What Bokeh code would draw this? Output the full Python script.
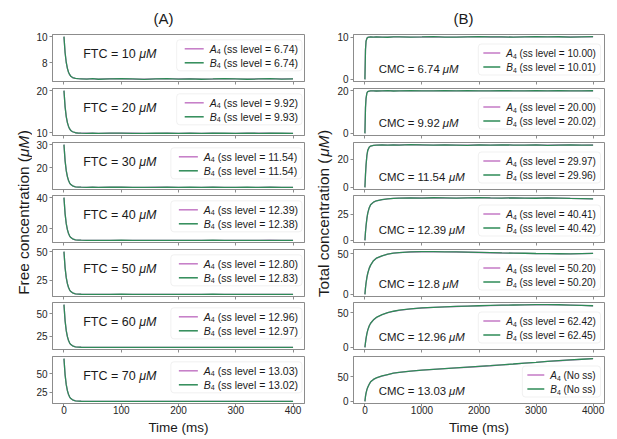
import math
from bokeh.plotting import figure
from bokeh.models import Range1d, FixedTicker, Label, BoxAnnotation
from bokeh.layouts import row, column
from bokeh.embed import file_html
from bokeh.resources import INLINE

# ------------------------------------------------------------------ data
t_free = [0, 2, 4, 6, 8, 10, 12, 15, 20, 25, 30, 40, 50, 60, 80, 100, 120, 140, 160,
          180, 200, 220, 240, 260, 280, 300, 320, 340, 360, 380, 400]
t_total = [0, 10, 20, 35, 50, 75, 100, 150, 200, 300, 400, 500, 600, 800, 1000, 1200,
           1400, 1600, 1800, 2000, 2200, 2400, 2600, 2800, 3000, 3200, 3400, 3600, 3800, 4000]

ftc_values = ["10", "20", "30", "40", "50", "60", "70"]
free_A4_ss = ["6.74", "9.92", "11.54", "12.39", "12.80", "12.96", "13.03"]
free_B4_ss = ["6.74", "9.93", "11.54", "12.38", "12.83", "12.97", "13.02"]
cmc_values = ["6.74", "9.92", "11.54", "12.39", "12.8", "12.96", "13.03"]
total_A4_ss = ["10.00", "20.00", "29.97", "40.41", "50.20", "62.42", None]
total_B4_ss = ["10.01", "20.02", "29.96", "40.42", "50.20", "62.45", None]

free_ticks = [[8, 10], [10, 20], [20, 30], [20, 40], [25, 50], [25, 50], [25, 50]]
total_ticks = [[0, 10], [0, 20], [0, 20], [0, 25], [0, 50], [0, 50], [0, 50]]
free_xticks = [0, 100, 200, 300, 400]
total_xticks = [0, 1000, 2000, 3000, 4000]

free_B4_10 = [10.00, 8.76, 8.01, 7.56, 7.26, 7.07, 6.95, 6.85, 6.78, 6.76, 6.75, 6.73, 6.76, 6.72, 6.75, 6.77,
              6.74, 6.71, 6.74, 6.76, 6.73, 6.75, 6.72, 6.74, 6.77, 6.75, 6.72, 6.74, 6.76, 6.73, 6.75]
free_A4_10 = [10.00, 8.76, 8.01, 7.56, 7.26, 7.07, 6.95, 6.85, 6.78, 6.76, 6.75, 6.74, 6.75, 6.73, 6.76, 6.75,
              6.73, 6.72, 6.75, 6.75, 6.74, 6.76, 6.73, 6.73, 6.76, 6.74, 6.73, 6.75, 6.75, 6.74, 6.74]
free_B4_20 = [20.00, 16.17, 13.86, 12.45, 11.54, 10.94, 10.58, 10.28, 10.05, 9.98, 9.95, 9.92, 9.95, 9.91, 9.94, 9.96,
              9.92, 9.90, 9.93, 9.95, 9.91, 9.94, 9.92, 9.96, 9.93, 9.90, 9.94, 9.92, 9.95, 9.93, 9.91]
free_A4_20 = [20.00, 16.17, 13.86, 12.45, 11.54, 10.94, 10.58, 10.28, 10.05, 9.98, 9.95, 9.93, 9.94, 9.90, 9.93, 9.95,
              9.93, 9.91, 9.92, 9.94, 9.92, 9.93, 9.91, 9.95, 9.92, 9.91, 9.93, 9.93, 9.94, 9.92, 9.92]
free_B4_30 = [30.00, 22.99, 18.74, 16.16, 14.49, 13.39, 12.74, 12.19, 11.76, 11.63, 11.58, 11.53, 11.56, 11.52, 11.55, 11.57,
              11.53, 11.51, 11.54, 11.56, 11.52, 11.55, 11.53, 11.57, 11.54, 11.51, 11.55, 11.53, 11.56, 11.54, 11.52]
free_A4_30 = [30.00, 22.99, 18.74, 16.16, 14.49, 13.39, 12.74, 12.19, 11.76, 11.63, 11.58, 11.54, 11.55, 11.53, 11.56, 11.56,
              11.52, 11.52, 11.55, 11.55, 11.53, 11.54, 11.54, 11.56, 11.53, 11.52, 11.54, 11.54, 11.55, 11.53, 11.53]
free_B4_40 = [40.00, 29.50, 23.15, 19.28, 16.80, 15.14, 14.18, 13.35, 12.71, 12.52, 12.44, 12.37, 12.40, 12.36, 12.39, 12.41,
              12.37, 12.35, 12.38, 12.40, 12.36, 12.39, 12.37, 12.41, 12.38, 12.35, 12.39, 12.37, 12.40, 12.38, 12.36]
free_A4_40 = [40.00, 29.50, 23.15, 19.28, 16.80, 15.14, 14.18, 13.35, 12.71, 12.52, 12.44, 12.38, 12.39, 12.37, 12.40, 12.40,
              12.38, 12.36, 12.39, 12.39, 12.37, 12.40, 12.38, 12.40, 12.39, 12.36, 12.38, 12.38, 12.41, 12.39, 12.37]
free_B4_50 = [50.00, 35.88, 27.33, 22.12, 18.78, 16.55, 15.25, 14.13, 13.28, 13.02, 12.90, 12.82, 12.85, 12.81, 12.84, 12.86,
              12.82, 12.80, 12.83, 12.85, 12.81, 12.84, 12.82, 12.86, 12.83, 12.80, 12.84, 12.82, 12.85, 12.83, 12.81]
free_A4_50 = [50.00, 35.88, 27.33, 22.12, 18.78, 16.55, 15.25, 14.13, 13.28, 13.02, 12.89, 12.80, 12.82, 12.79, 12.81, 12.83,
              12.80, 12.78, 12.80, 12.82, 12.79, 12.81, 12.80, 12.82, 12.80, 12.78, 12.81, 12.79, 12.82, 12.80, 12.79]
free_B4_60 = [60.00, 42.13, 31.31, 24.73, 20.49, 17.67, 16.03, 14.62, 13.53, 13.21, 13.06, 12.96, 12.99, 12.95, 12.98, 13.00,
              12.96, 12.94, 12.97, 12.99, 12.95, 12.98, 12.96, 13.00, 12.97, 12.94, 12.98, 12.96, 12.99, 12.97, 12.95]
free_A4_60 = [60.00, 42.13, 31.31, 24.73, 20.49, 17.67, 16.03, 14.62, 13.53, 13.21, 13.06, 12.95, 12.98, 12.94, 12.97, 12.99,
              12.95, 12.94, 12.96, 12.98, 12.95, 12.97, 12.95, 12.99, 12.96, 12.94, 12.97, 12.95, 12.98, 12.96, 12.95]
free_B4_70 = [70.00, 48.35, 35.24, 27.27, 22.14, 18.72, 16.72, 15.01, 13.70, 13.30, 13.13, 13.01, 13.04, 13.00, 13.03, 13.05,
              13.01, 12.99, 13.02, 13.04, 13.00, 13.03, 13.01, 13.05, 13.02, 12.99, 13.03, 13.01, 13.04, 13.02, 13.00]
free_A4_70 = [70.00, 48.35, 35.24, 27.27, 22.14, 18.72, 16.72, 15.01, 13.70, 13.30, 13.13, 13.02, 13.05, 13.01, 13.04, 13.04,
              13.02, 13.00, 13.03, 13.03, 13.01, 13.04, 13.02, 13.04, 13.03, 13.00, 13.02, 13.02, 13.05, 13.03, 13.01]

total_B4_674 = [0.00, 7.00, 9.00, 9.70, 9.90, 10.00, 10.02, 9.98, 10.05, 10.00, 9.96, 10.03, 10.06, 9.99, 10.02,
                10.08, 10.00, 9.97, 10.04, 10.10, 10.02, 10.05, 9.98, 10.06, 10.10, 10.03, 10.07, 10.00, 10.05, 10.08]
total_A4_674 = [0.00, 7.00, 9.00, 9.70, 9.90, 9.99, 10.01, 9.99, 10.03, 9.98, 9.97, 10.02, 10.04, 10.00, 10.01,
                10.06, 9.99, 9.98, 10.03, 10.08, 10.01, 10.04, 9.99, 10.05, 10.08, 10.02, 10.05, 10.01, 10.04, 10.06]
total_B4_992 = [0.00, 12.00, 16.50, 19.00, 19.70, 19.90, 20.00, 20.05, 19.95, 20.02, 20.10, 19.96, 20.04, 20.08, 19.98,
                20.05, 20.12, 20.00, 20.06, 19.97, 20.03, 20.10, 20.05, 19.98, 20.07, 20.02, 20.10, 20.04, 19.99, 20.06]
total_A4_992 = [0.00, 12.00, 16.50, 19.00, 19.70, 19.88, 19.98, 20.03, 19.96, 20.00, 20.07, 19.97, 20.02, 20.05, 19.99,
                20.03, 20.09, 19.99, 20.04, 19.98, 20.01, 20.07, 20.03, 19.99, 20.05, 20.01, 20.07, 20.02, 19.98, 20.03]
total_B4_1154 = [0.00, 9.00, 16.00, 23.00, 26.50, 28.80, 29.60, 30.10, 30.30, 30.40, 30.20, 30.50, 30.30, 30.60, 30.40,
                 30.20, 30.50, 30.30, 30.10, 30.40, 30.20, 30.50, 30.30, 30.20, 30.40, 30.10, 30.30, 30.50, 30.20, 30.30]
total_A4_1154 = [0.00, 9.00, 16.00, 23.00, 26.50, 28.80, 29.60, 30.05, 30.25, 30.35, 30.25, 30.45, 30.35, 30.55, 30.35,
                 30.25, 30.45, 30.25, 30.15, 30.35, 30.25, 30.45, 30.25, 30.25, 30.35, 30.15, 30.35, 30.45, 30.25, 30.35]
total_B4_1239 = [0.00, 8.00, 14.00, 21.00, 26.00, 31.00, 34.00, 36.50, 37.80, 39.00, 39.60, 40.00, 40.30, 40.60, 40.40,
                 40.70, 40.50, 40.30, 40.60, 40.80, 40.50, 40.30, 40.60, 40.40, 40.20, 40.50, 40.30, 40.00, 39.80, 39.60]
total_A4_1239 = [0.00, 8.00, 14.00, 21.00, 26.00, 31.00, 34.00, 36.40, 37.70, 38.90, 39.60, 40.05, 40.25, 40.55, 40.45,
                 40.65, 40.45, 40.35, 40.55, 40.75, 40.45, 40.35, 40.55, 40.35, 40.25, 40.45, 40.25, 40.05, 39.85, 39.65]
total_B4_128 = [0.00, 8.00, 14.00, 21.00, 26.00, 32.00, 36.00, 41.50, 44.50, 47.50, 49.50, 50.80, 51.50, 52.20, 52.50,
                52.60, 52.40, 52.20, 51.90, 51.60, 51.30, 51.00, 50.80, 50.60, 50.30, 50.10, 50.00, 49.90, 50.20, 50.40]
total_A4_128 = [0.00, 8.00, 14.00, 21.00, 26.00, 32.00, 36.00, 41.40, 44.40, 47.40, 49.40, 50.70, 51.45, 52.15, 52.45,
                52.55, 52.35, 52.15, 51.85, 51.55, 51.25, 50.95, 50.75, 50.55, 50.25, 50.05, 49.95, 49.85, 50.15, 50.35]
total_B4_1296 = [0.00, 7.00, 13.00, 20.00, 25.00, 31.00, 35.00, 40.00, 43.50, 47.50, 50.50, 52.50, 54.00, 56.00, 57.30,
                 58.20, 58.90, 59.50, 60.00, 60.50, 60.90, 61.30, 61.60, 61.80, 62.00, 62.10, 61.90, 61.50, 61.00, 60.50]
total_A4_1296 = [0.00, 7.00, 13.00, 20.00, 25.00, 31.00, 35.00, 39.90, 43.40, 47.40, 50.40, 52.40, 53.90, 55.90, 57.20,
                 58.10, 58.80, 59.40, 59.90, 60.40, 60.80, 61.20, 61.50, 61.70, 61.90, 62.00, 61.80, 61.40, 60.90, 60.40]
total_B4_1303 = [0.00, 10.00, 17.00, 24.00, 29.00, 35.00, 40.00, 45.00, 48.00, 52.00, 55.00, 58.00, 59.50, 62.00, 64.00,
                 65.50, 67.00, 68.50, 70.00, 71.50, 73.00, 74.80, 76.50, 78.30, 80.00, 81.80, 83.30, 84.80, 86.20, 87.50]
total_A4_1303 = [0.00, 10.00, 17.00, 24.00, 29.00, 35.00, 40.00, 44.90, 47.90, 51.90, 54.90, 57.90, 59.40, 61.90, 63.90,
                 65.40, 66.90, 68.40, 69.90, 71.40, 72.90, 74.70, 76.40, 78.20, 79.90, 81.70, 83.20, 84.70, 86.10, 87.40]

free_A4 = [free_A4_10, free_A4_20, free_A4_30, free_A4_40, free_A4_50, free_A4_60, free_A4_70]
free_B4 = [free_B4_10, free_B4_20, free_B4_30, free_B4_40, free_B4_50, free_B4_60, free_B4_70]
total_A4 = [total_A4_674, total_A4_992, total_A4_1154, total_A4_1239, total_A4_128, total_A4_1296, total_A4_1303]
total_B4 = [total_B4_674, total_B4_992, total_B4_1154, total_B4_1239, total_B4_128, total_B4_1296, total_B4_1303]

# ------------------------------------------------------------------ style
FONT = "Liberation Sans"
COL_A = "#c47ac6"
COL_B = "#2e8b57"
GRAY = "#8c8c8c"
TXT = "#1a1a1a"
FW, FH = 252, 47
TOPS = [34, 3, 3, 2, 3, 2, 3]
BOTS = [4, 4, 4, 4, 4, 4, 35]
COLH = sum(TOPS) + sum(BOTS) + 7 * FH

CW = {' ': .278, '(': .333, ')': .333, '=': .584, '.': .278, 'A': .667, 'B': .667, 'C': .722,
      'F': .611, 'M': .833, 'N': .722, 'T': .611, 'a': .556, 'c': .5, 'e': .556, 'i': .222,
      'l': .222, 'm': .833, 'n': .556, 'o': .556, 'r': .333, 's': .5, 't': .278, 'v': .5, 'μ': .576}


def tw(s, size):
    return sum(CW.get(ch, .556) for ch in s) * size


def fx(xr, px):
    return xr.start + px / FW * (xr.end - xr.start)


def fy(yr, py):
    return yr.end - py / FH * (yr.end - yr.start)


def label(p, x, y, text, size, style="normal", color=TXT):
    p.add_layout(Label(x=x, y=y, text=text, text_font=FONT, text_font_size=f"{size}px",
                       text_font_style=style, text_align="left", text_baseline="middle",
                       text_color=color, level="overlay"))


def pieces(p, xr, yr, px, py, parts):
    x = px
    for text, size, style, dy in parts:
        stripped = text.lstrip(" ")
        x += tw(text[:len(text) - len(stripped)], size)
        body = stripped.rstrip(" ")
        label(p, fx(xr, x), fy(yr, py + dy), body, size, style)
        x += tw(stripped, size)


def legend(p, xr, yr, entries, fs, where, gap_r, pad_t, line_len, pad_l):
    sub = fs * 0.68
    widths = [tw(letter, fs) + tw("4", sub) + tw(suffix, fs) for _, letter, suffix in entries]
    box_r = FW - gap_r
    text_l = box_r - pad_t - max(widths)
    line_r = text_l - 6
    line_l = line_r - line_len
    box_l = line_l - pad_l
    box_h = 31
    box_t = 5.3 if where == "top" else FH - 6.5 - box_h
    p.add_layout(BoxAnnotation(left=fx(xr, box_l), right=fx(xr, box_r), top=fy(yr, box_t),
                               bottom=fy(yr, box_t + box_h), fill_color="white", fill_alpha=0.85,
                               line_color="#d2d2d2", line_width=1, border_radius=3))
    for k, (color, letter, suffix) in enumerate(entries):
        ry = box_t + 9 + 14 * k
        p.segment(x0=[fx(xr, line_l)], y0=[fy(yr, ry)], x1=[fx(xr, line_r)], y1=[fy(yr, ry)],
                  line_color=color, line_width=1.5, level="overlay")
        pieces(p, xr, yr, text_l, ry, [(letter, fs, "italic", 0), ("4", round(sub, 1), "normal", 0.3 * fs),
                                       (suffix, fs, "normal", 0)])


def panel(i, t, a, b, yt, xt, left_border, right_border, last):
    xr = Range1d(min(t) - 0.05 * (max(t) - min(t)), max(t) + 0.05 * (max(t) - min(t)))
    lo, hi = min(a + b), max(a + b)
    yr = Range1d(lo - 0.05 * (hi - lo), hi + 0.05 * (hi - lo))
    p = figure(width=left_border + FW + right_border, height=TOPS[i] + FH + BOTS[i],
               x_range=xr, y_range=yr, output_backend="svg", toolbar_location=None,
               min_border_left=left_border, min_border_right=right_border,
               min_border_top=TOPS[i], min_border_bottom=BOTS[i])
    p.grid.visible = False
    p.outline_line_color = GRAY
    p.outline_line_width = 1
    p.background_fill_color = "white"
    for ax in (p.xaxis[0], p.yaxis[0]):
        ax.axis_line_color = GRAY
        ax.major_tick_line_color = GRAY
        ax.minor_tick_line_color = None
        ax.major_tick_out = 3
        ax.major_tick_in = 0
        ax.major_label_text_font = FONT
        ax.major_label_text_font_size = "10px"
        ax.major_label_text_color = "#262626"
    p.yaxis[0].ticker = FixedTicker(ticks=yt)
    p.yaxis[0].major_label_standoff = 2
    p.xaxis[0].ticker = FixedTicker(ticks=xt)
    if last:
        p.xaxis[0].major_label_standoff = -1
        p.xaxis[0].axis_label = "Time (ms)"
        p.xaxis[0].axis_label_text_font = FONT
        p.xaxis[0].axis_label_text_font_size = "13.5px"
        p.xaxis[0].axis_label_text_font_style = "normal"
        p.xaxis[0].axis_label_text_color = TXT
        p.xaxis[0].axis_label_standoff = 3
    else:
        p.xaxis[0].major_label_text_font_size = "0px"
        p.xaxis[0].major_label_text_color = None
        p.xaxis[0].major_label_standoff = 0
    p.line(t, a, line_color=COL_A, line_width=1.3)
    p.line(t, b, line_color=COL_B, line_width=1.3)
    return p, xr, yr


def set_title(p, text, offset):
    p.title.text = text
    p.title.align = "left"
    p.title.offset = offset
    p.title.standoff = 15
    p.title.text_font = FONT
    p.title.text_font_size = "15px"
    p.title.text_font_style = "normal"
    p.title.text_color = TXT


left_figs = []
for i in range(7):
    p, xr, yr = panel(i, t_free, free_A4[i], free_B4[i], free_ticks[i], free_xticks, 20, 4, i == 6)
    pieces(p, xr, yr, 30.7, 19.3, [(f"FTC = {ftc_values[i]} ", 12.5, "normal", 0), ("μM", 12.5, "italic", 0)])
    legend(p, xr, yr, [(COL_A, "A", f" (ss level = {free_A4_ss[i]})"),
                       (COL_B, "B", f" (ss level = {free_B4_ss[i]})")], 10.5, "top", 2.5, 4, 19, 8)
    if i == 0:
        set_title(p, "(A)", 101)
    left_figs.append(p)

right_figs = []
for i in range(7):
    p, xr, yr = panel(i, t_total, total_A4[i], total_B4[i], total_ticks[i], total_xticks, 18, 5, i == 6)
    pieces(p, xr, yr, 25.3, FH - 12.7, [(f"CMC = {cmc_values[i]} ", 11.4, "normal", 0), ("μM", 11.4, "italic", 0)])
    sa = f" (ss level = {total_A4_ss[i]})" if total_A4_ss[i] else " (No ss)"
    sb = f" (ss level = {total_B4_ss[i]})" if total_B4_ss[i] else " (No ss)"
    legend(p, xr, yr, [(COL_A, "A", sa), (COL_B, "B", sb)], 10, "bottom", 4, 5, 17, 5)
    if i == 0:
        set_title(p, "(B)", 100)
    right_figs.append(p)


def ylabel_fig(width, cx, main, center_page_y):
    p = figure(width=width, height=COLH, x_range=Range1d(0, width), y_range=Range1d(0, COLH),
               output_backend="svg", toolbar_location=None, min_border=0,
               x_axis_location=None, y_axis_location=None, outline_line_color=None)
    p.grid.visible = False
    size = 15.4
    parts = [(main, "normal"), ("μM", "italic"), (")", "normal")]
    total = sum(tw(s, size) for s, _ in parts)
    y = (COLH - center_page_y) - total / 2
    for s, style in parts:
        p.add_layout(Label(x=cx, y=y, text=s, angle=math.pi / 2, text_font=FONT,
                           text_font_size=f"{size}px", text_font_style=style, text_align="left",
                           text_baseline="middle", text_color=TXT))
        y += tw(s, size)
    return p


yl_a = ylabel_fig(32, 22.5, "Free concentration (", 212)
yl_b = ylabel_fig(26, 14.5, "Total concentration (", 213)

layout = row(yl_a, column(*left_figs), yl_b, column(*right_figs))
open("out.html", "w").write(file_html(layout, INLINE))
